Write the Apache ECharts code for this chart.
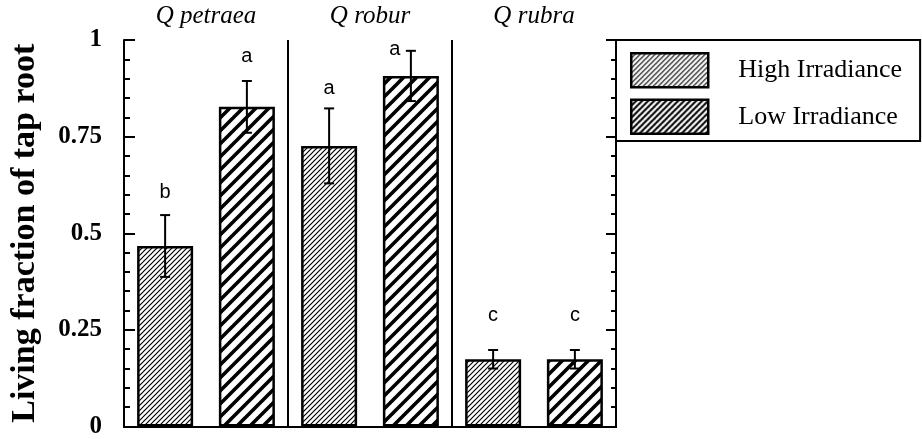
<!DOCTYPE html>
<html><head><meta charset="utf-8">
<script src="https://cdn.jsdelivr.net/npm/echarts@6/dist/echarts.min.js"></script>
<style>html,body{margin:0;padding:0;background:#fff}#c{width:922px;height:439px}</style>
</head><body><div id="c"></div>
<script>
// ---- data ----
const species = ['Q petraea', 'Q robur', 'Q rubra'];
const seriesNames = ['High Irradiance', 'Low Irradiance'];
const highIrr = [0.467, 0.726, 0.174];
const lowIrr = [0.827, 0.907, 0.174];
const highErr = [0.080, 0.097, 0.024];
const lowErr = [0.067, 0.065, 0.024];
const highLetters = ['b', 'a', 'c'];
const lowLetters = ['a', 'a', 'c'];
const yTicks = [0, 0.25, 0.5, 0.75, 1];

// ---- styling ----
const BAR_W = 56, GAP = 0.46;
// letter placement (pixel offsets of baseline from error cap, x shift)
const letterStyle = [
  [[0, -13], [0, -14]],
  [[0, -10], [-16, 9]],
  [[0, -24], [0, -24]]
];

function hatch(period, lw) {
  const c = document.createElement('canvas');
  c.width = period; c.height = period;
  const g = c.getContext('2d');
  g.fillStyle = '#fff'; g.fillRect(0, 0, period, period);
  g.strokeStyle = '#000'; g.lineWidth = lw;
  g.beginPath();
  for (let k = -1; k <= 1; k++) {
    g.moveTo(k * period - 1, period + 1);
    g.lineTo(k * period + period + 1, -1);
  }
  g.stroke();
  return c;
}
const highPat = { image: hatch(5, 1.2), repeat: 'repeat' };
const lowPat = { image: hatch(13, 3.6), repeat: 'repeat' };
const lowLegPat = { image: hatch(6, 2), repeat: 'repeat' };

const errData = [];
species.forEach((s, i) => {
  errData.push([i, highIrr[i], highErr[i], 0]);
  errData.push([i, lowIrr[i], lowErr[i], 1]);
});

const chart = echarts.init(document.getElementById('c'), null, { renderer: 'canvas' });
const serif = '"Liberation Serif", "Times New Roman", serif';
chart.setOption({
  animation: false,
  backgroundColor: '#fff',
  grid: { left: 122, top: 40, right: 306, bottom: 9, containLabel: false },
  legend: {
    left: 616, top: 40, orient: 'vertical', icon: 'rect',
    itemWidth: 77, itemHeight: 34, itemGap: 10,
    padding: [12, 18, 6, 14],
    borderColor: '#000', borderWidth: 2,
    textStyle: { fontFamily: serif, fontSize: 26, color: '#000', padding: [0, 0, 0, 25] },
    itemStyle: { borderColor: '#000', borderWidth: 2.5 },
    data: [
      { name: seriesNames[0] },
      { name: seriesNames[1], itemStyle: { color: lowLegPat } }
    ]
  },
  xAxis: [
    {
      type: 'category', data: species, position: 'bottom',
      axisLine: { lineStyle: { color: '#000', width: 2 } },
      axisTick: { show: false }, axisLabel: { show: false },
      splitLine: { show: true, lineStyle: { color: '#000', width: 2 } }
    },
    {
      type: 'category', data: species, position: 'top',
      axisLine: { lineStyle: { color: '#000', width: 2 } },
      axisTick: { show: false },
      axisLabel: { fontFamily: serif, fontStyle: 'italic', fontSize: 25, color: '#000', margin: 11 }
    }
  ],
  yAxis: [
    {
      type: 'value', min: 0, max: 1, interval: 0.25, position: 'left',
      name: 'Living fraction of tap root', nameLocation: 'middle', nameGap: 82,
      nameTextStyle: { fontFamily: serif, fontWeight: 'bold', fontSize: 34, color: '#000' },
      axisLine: { show: true, lineStyle: { color: '#000', width: 2 } },
      axisTick: { show: true, inside: true, length: 11, lineStyle: { color: '#000', width: 2 } },
      minorTick: { show: true, splitNumber: 5, length: 6, lineStyle: { color: '#000', width: 2 } },
      splitLine: { show: false },
      axisLabel: {
        fontFamily: serif, fontWeight: 'bold', fontSize: 25, color: '#000', margin: 22,
        formatter: v => String(yTicks.find(t => Math.abs(t - v) < 1e-9))
      }
    },
    {
      type: 'value', min: 0, max: 1, interval: 0.25, position: 'right',
      axisLine: { show: true, lineStyle: { color: '#000', width: 2 } },
      axisTick: { show: true, inside: true, length: 10, lineStyle: { color: '#000', width: 2 } },
      minorTick: { show: true, splitNumber: 5, length: 5, lineStyle: { color: '#000', width: 2 } },
      splitLine: { show: false }, axisLabel: { show: false }
    }
  ],
  series: [
    {
      name: seriesNames[0], type: 'bar', data: highIrr, barWidth: BAR_W, barGap: (GAP * 100) + '%',
      itemStyle: { color: highPat, borderColor: '#000', borderWidth: 2.5 }
    },
    {
      name: seriesNames[1], type: 'bar', data: lowIrr, barWidth: BAR_W,
      itemStyle: { color: lowPat, borderColor: '#000', borderWidth: 2.5 }
    },
    {
      type: 'custom', data: errData, z: 5, silent: true,
      renderItem(params, api) {
        const ci = api.value(0), v = api.value(1), e = api.value(2), s = api.value(3);
        const off = (s === 0 ? -1 : 1) * BAR_W * (1 + GAP) / 2;
        const top = api.coord([ci, v + e]);
        const bot = api.coord([ci, v - e]);
        const x = top[0] + off;
        const cap = 5;
        const ls = { stroke: '#000', lineWidth: 2 };
        const letter = (s === 0 ? highLetters : lowLetters)[ci];
        const st = letterStyle[ci][s];
        return {
          type: 'group',
          children: [
            { type: 'line', shape: { x1: x, y1: top[1], x2: x, y2: bot[1] }, style: ls },
            { type: 'line', shape: { x1: x - cap, y1: top[1], x2: x + cap, y2: top[1] }, style: ls },
            { type: 'line', shape: { x1: x - cap, y1: bot[1], x2: x + cap, y2: bot[1] }, style: ls },
            {
              type: 'text',
              style: {
                text: letter, x: x + st[0], y: top[1] + st[1],
                align: 'center', verticalAlign: 'bottom',
                fontFamily: '"Liberation Sans", Arial, sans-serif', fontSize: 20, fill: '#000'
              }
            }
          ]
        };
      }
    }
  ]
});
</script>
</body></html>
